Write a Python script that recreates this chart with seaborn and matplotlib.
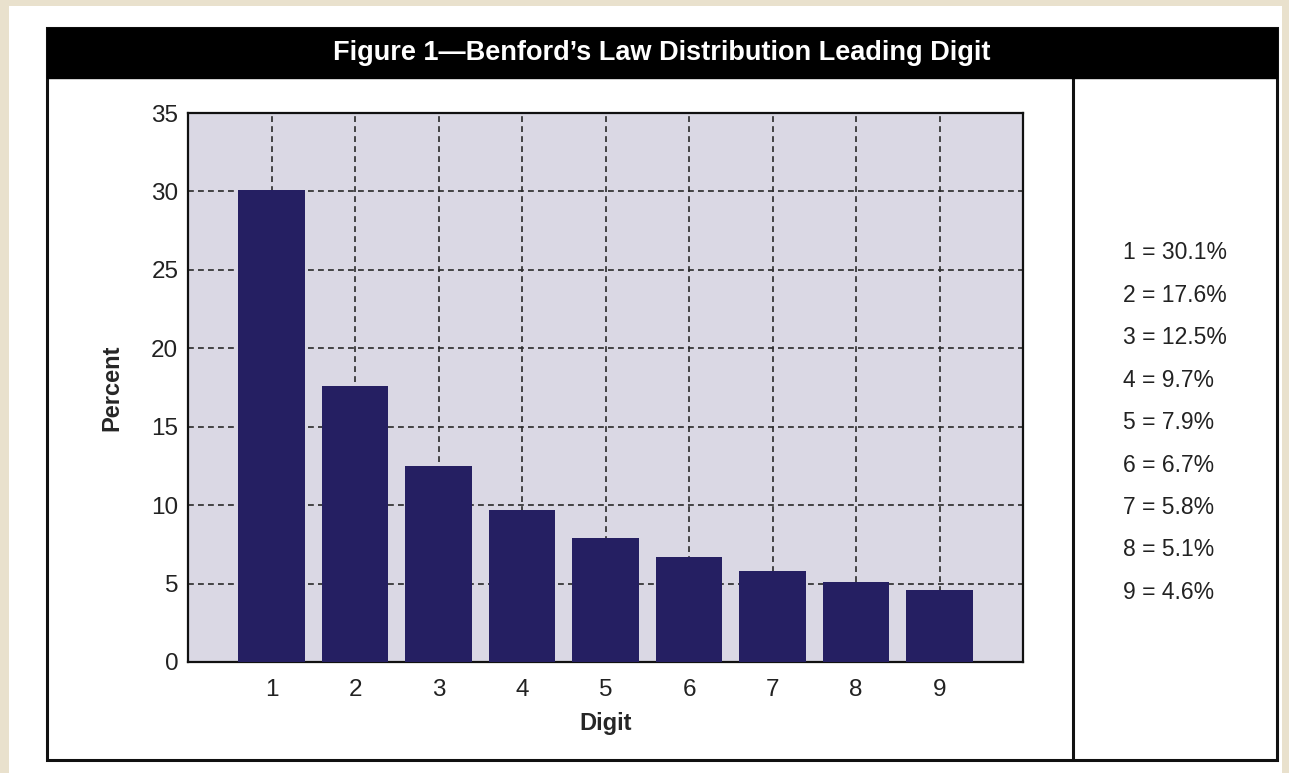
import matplotlib
matplotlib.use("Agg")
import matplotlib.pyplot as plt
import seaborn as sns
import pandas as pd
from matplotlib.patches import Rectangle
from matplotlib.lines import Line2D

# Benford's law leading digit percentages
digits = ["1", "2", "3", "4", "5", "6", "7", "8", "9"]
percent = [30.1, 17.6, 12.5, 9.7, 7.9, 6.7, 5.8, 5.1, 4.6]
y_ticks = [0, 5, 10, 15, 20, 25, 30, 35]
title = "Figure 1\u2014Benford\u2019s Law Distribution Leading Digit"

df = pd.DataFrame({"Digit": digits, "Percent": percent})

sns.set_theme(style="white")
fam = ["Liberation Sans Narrow", "Liberation Sans", "DejaVu Sans"]
plt.rcParams["font.family"] = fam

W, H = 1289, 773
fig = plt.figure(figsize=(W / 100, H / 100), dpi=100)
fig.patch.set_facecolor("#e9e1cd")


def fx(px):
    return px / W


def fy(py):
    return 1 - py / H


# white panel and black frame
fig.patches.append(Rectangle((fx(9), 0), fx(1282 - 9), fy(6), transform=fig.transFigure,
                             facecolor="white", edgecolor="none", zorder=0))
fig.patches.append(Rectangle((fx(47), fy(760)), fx(1277 - 47), (760 - 28) / H,
                             transform=fig.transFigure, facecolor="none",
                             edgecolor="#111111", lw=2.2, zorder=1))
fig.patches.append(Rectangle((fx(47), fy(78)), fx(1277 - 47), (78 - 28) / H,
                             transform=fig.transFigure, facecolor="black",
                             edgecolor="black", zorder=1))
fig.lines.append(Line2D([fx(1073), fx(1073)], [fy(760), fy(78)], transform=fig.transFigure,
                        color="#111111", lw=2.2, zorder=1))

fig.text(fx(662), fy(53), title, color="white", fontsize=19.5, fontweight="bold",
         ha="center", va="center", family=fam, zorder=3)

ax = fig.add_axes([fx(188), fy(662), fx(1023 - 188), (662 - 113) / H])
ax.set_zorder(2)
ax.set_facecolor("#dad8e4")
sns.barplot(data=df, x="Digit", y="Percent", color="#251f62", saturation=1,
            width=0.8, edgecolor="none", linewidth=0, ax=ax, zorder=3)
ax.set_xlim(-1, 9)
ax.set_ylim(0, 35)
ax.set_yticks(y_ticks)
ax.set_axisbelow(True)
ax.grid(True, color="#2a2a2a", lw=1.2, linestyle=(0, (3.5, 2.5)), zorder=1)
for s in ax.spines.values():
    s.set_visible(True)
    s.set_color("#111111")
    s.set_linewidth(1.6)
ax.tick_params(axis="both", length=0, labelsize=17.5, colors="#222222")
ax.tick_params(axis="y", pad=7)
ax.tick_params(axis="x", pad=12)
ax.set_xlabel("Digit", fontsize=17, fontweight="bold", labelpad=8)
ax.set_ylabel("Percent", fontsize=17, fontweight="bold", labelpad=20)

# legend-like listing on the right
for i, (d, p) in enumerate(zip(digits, percent)):
    fig.text(fx(1123), fy(253 + i * 42.4), f"{d} = {p}%", fontsize=16.5,
             color="#222222", ha="left", va="center", family=fam, zorder=3)

fig.savefig("out.png", dpi=100, facecolor=fig.get_facecolor())
